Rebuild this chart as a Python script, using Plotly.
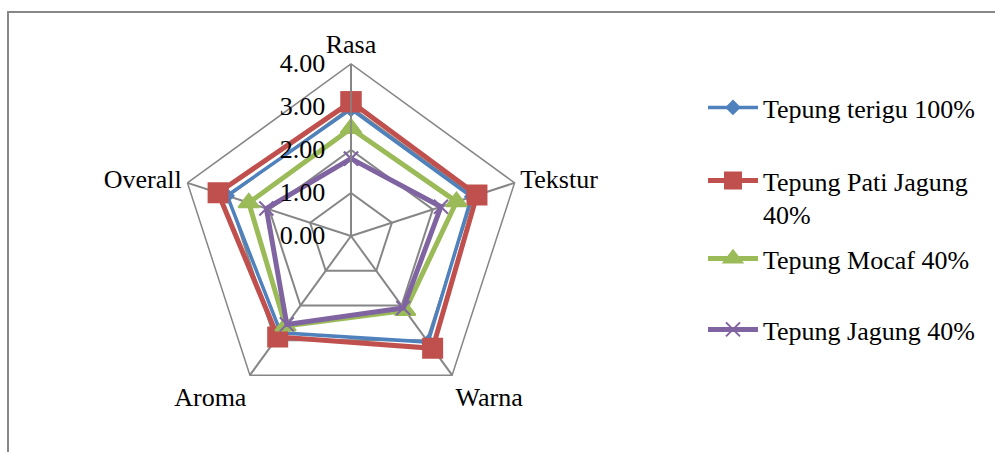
import plotly.graph_objects as go

# Sensory attributes (radar spokes, clockwise from the top)
attributes = ["Rasa", "Tekstur", "Warna", "Aroma", "Overall"]

# Mean panel scores per flour formulation
terigu_100 = [2.95, 2.95, 3.05, 2.78, 3.03]
pati_jagung_40 = [3.12, 3.08, 3.23, 2.90, 3.25]
mocaf_40 = [2.50, 2.58, 2.14, 2.59, 2.50]
jagung_40 = [1.80, 2.20, 2.07, 2.54, 2.07]

series_names = ["Tepung terigu 100%", "Tepung Pati Jagung<br>40%",
                "Tepung Mocaf 40%", "Tepung Jagung 40%"]

radial_ticks = [0, 1, 2, 3, 4]
radial_ticklabels = ["0.00", "1.00", "2.00", "3.00", "4.00"]

FONT = "Liberation Serif, Times New Roman, serif"
FS = 26
GRID = "#868686"

styles = [
    dict(color="#4F81BD", symbol="diamond", size=10, width=3.5),
    dict(color="#C0504D", symbol="square", size=19, width=5),
    dict(color="#9BBB59", symbol="triangle-up", size=18, width=5),
    dict(color="#8064A2", symbol="x-thin", size=14, width=5),
]
legend_ids = ["legend", "legend2", "legend3", "legend4"]

fig = go.Figure()
for name, vals, st, lg in zip(series_names,
                              [terigu_100, pati_jagung_40, mocaf_40, jagung_40],
                              styles, legend_ids):
    fig.add_trace(go.Scatterpolar(
        r=vals + vals[:1],
        theta=attributes + attributes[:1],
        mode="lines+markers",
        name=name,
        legend=lg,
        showlegend=True,
        line=dict(color=st["color"], width=st["width"]),
        marker=dict(symbol=st["symbol"], size=st["size"], color=st["color"],
                    line=dict(color=st["color"], width=2)),
    ))

W, H = 995, 452
cx, cy, R = 351, 236, 172

fig.update_layout(
    width=W, height=H,
    margin=dict(l=0, r=0, t=0, b=0),
    paper_bgcolor="white",
    showlegend=True,
    font=dict(family=FONT, size=FS, color="black"),
    polar=dict(
        domain=dict(x=[(cx - R) / W, (cx + R) / W],
                    y=[(H - cy - R) / H, (H - cy + R) / H]),
        bgcolor="white",
        gridshape="linear",
        angularaxis=dict(
            rotation=90, direction="clockwise",
            showline=True, linecolor=GRID, linewidth=1.5,
            gridcolor=GRID, gridwidth=1.5,
            ticks="", tickfont=dict(family=FONT, size=FS, color="black"),
        ),
        radialaxis=dict(
            range=[0, 4], angle=90, side="counterclockwise",
            tickvals=radial_ticks, ticktext=radial_ticklabels,
            tickangle=90,
            showline=True, linecolor=GRID, linewidth=1.5,
            gridcolor=GRID, gridwidth=1.5,
            ticks="outside", ticklen=16, tickcolor="rgba(0,0,0,0)",
            tickfont=dict(family=FONT, size=FS, color="black"),
        ),
    ),
    shapes=[dict(type="rect", xref="paper", yref="paper",
                 x0=8 / W, x1=1.05, y0=-0.05, y1=1 - 12 / H,
                 line=dict(color="#878787", width=2))],
)

legend_common = dict(x=703 / W, xanchor="left", yanchor="top", valign="top",
                     bgcolor="rgba(0,0,0,0)", itemwidth=50,
                     font=dict(family=FONT, size=FS, color="black"))
legend_rows = [110, 183, 261, 332]
for lg, yc in zip(legend_ids, legend_rows):
    fig.update_layout({lg: dict(legend_common, y=1 - (yc - 26) / H)})

fig.write_html("out.html")
